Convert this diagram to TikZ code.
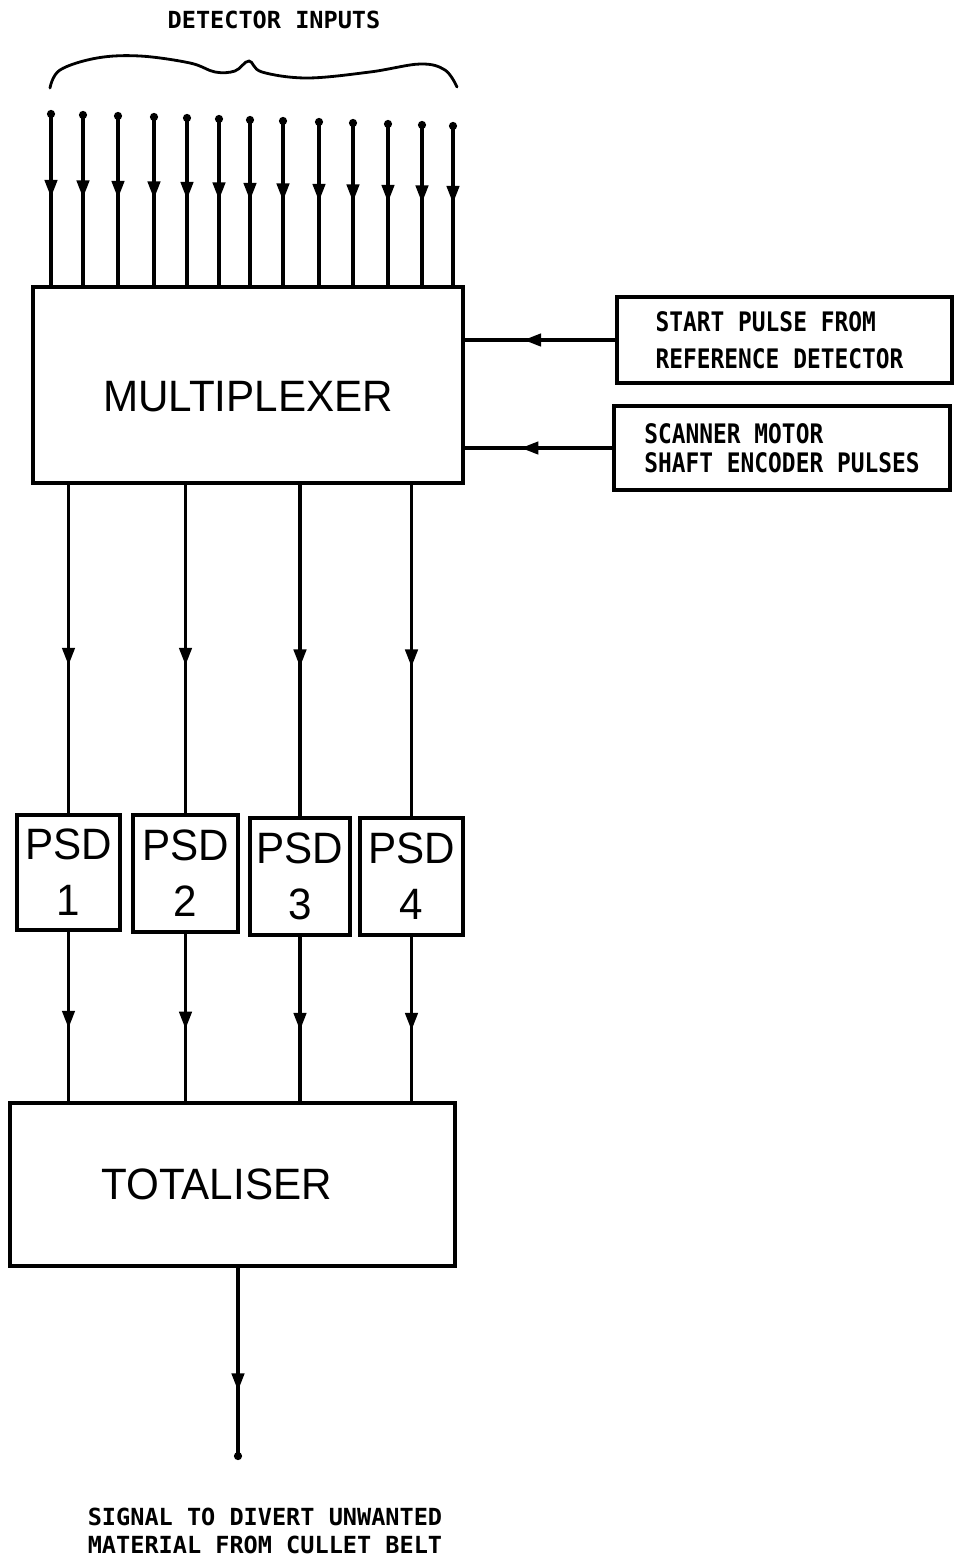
\documentclass[tikz,border=0pt]{standalone}
\usepackage{fontspec}
\usetikzlibrary{arrows.meta,decorations.markings}
\newfontfamily\bigsans[FakeStretch=0.96]{Liberation Sans}
\newfontfamily\monolabel{DejaVu Sans Mono}
\newfontfamily\monobox[FakeStretch=0.85]{DejaVu Sans Mono}
\begin{document}
\begin{tikzpicture}[x=0.02cm,y=-0.02cm,
  blk/.style={draw, line width=2.4pt, inner sep=0pt, font=\bigsans\fontsize{25}{31.8}\selectfont, align=center},
  sidebox/.style={draw, line width=2.4pt, inner sep=0pt, align=left},
  wire/.style={line width=2pt},
  midarrow/.style={postaction={decorate}, decoration={markings, mark=at position #1 with {\arrow{Triangle[length=10pt,width=7pt]}}}},
  toplabel/.style={font=\monolabel\bfseries\fontsize{13.4}{16}\selectfont, align=center, inner sep=0pt}
]
\useasboundingbox (0,0) rectangle (964,1559);

% texts
\node[toplabel] (title) at (274,20) {DETECTOR INPUTS};
\node[toplabel] (outlabel) at (265,1531) {SIGNAL TO DIVERT UNWANTED\\MATERIAL FROM CULLET BELT};

% brace
\draw[line width=1.6pt, line cap=round] plot[smooth, tension=0.6] coordinates {(50,88) (60,70) (97,58) (140,56) (190,63) (215,72) (235,71) (249,61) (262,72) (307,78) (370,72) (420,64) (445,70) (457,87)};

% boxes
\node[blk, minimum width=8.6cm, minimum height=3.92cm, text height=30.6pt, text depth=0pt] (mux) at (248,385) {MULTIPLEXER};
\node[sidebox, minimum width=6.7cm, minimum height=1.72cm, font=\monobox\bfseries\fontsize{15.3}{21}\selectfont] (start) at (784.5,340) {START PULSE FROM\\REFERENCE DETECTOR\hspace*{0.2cm}};
\node[sidebox, minimum width=6.72cm, minimum height=1.68cm, font=\monobox\bfseries\fontsize{15.3}{16.4}\selectfont] (scan) at (782,448) {SCANNER MOTOR\\SHAFT ENCODER PULSES};

\node[blk, minimum width=2.06cm, minimum height=2.3cm] (psd1) at (68.5,872.5) {PSD\\1};
\node[blk, minimum width=2.1cm, minimum height=2.34cm] (psd2) at (185.5,873.5) {PSD\\2};
\node[blk, minimum width=2.0cm, minimum height=2.34cm] (psd3) at (300,876.5) {PSD\\3};
\node[blk, minimum width=2.06cm, minimum height=2.34cm] (psd4) at (411.5,876.5) {PSD\\4};

\node[blk, minimum width=8.9cm, minimum height=3.26cm] (tot) at (232.5,1184.5) {TOTALISER\hspace*{0.64cm}};

% detector inputs
\foreach \i/\x/\y in {1/51/110, 2/83/111, 3/118/112, 4/154/113, 5/187/114, 6/219/115, 7/250/116, 8/283/117, 9/319/118, 10/353/119, 11/388/120, 12/422/121, 13/453/122} {
  \coordinate (d\i) at (\x,\y);
  \draw[wire, midarrow=0.5, {Circle[length=4.5pt]}-] (d\i) -- (d\i |- mux.north);
}

% side inputs
\draw[wire, midarrow=0.61] (start.west) -- (start.west -| mux.east);
\draw[wire, midarrow=0.62] (scan.west) -- (scan.west -| mux.east);

% mux to PSDs
\foreach \k in {1,2,3,4} {
  \draw[wire, midarrow=0.55] (mux.south -| psd\k.north) -- (psd\k.north);
  \draw[wire, midarrow=0.57] (psd\k.south) -- (psd\k.south |- tot.north);
}

% output
\coordinate (out) at (238,1460);
\draw[wire, midarrow=0.64, -{Circle[length=4.5pt]}] (tot.south -| out) -- (out);
\end{tikzpicture}
\end{document}
